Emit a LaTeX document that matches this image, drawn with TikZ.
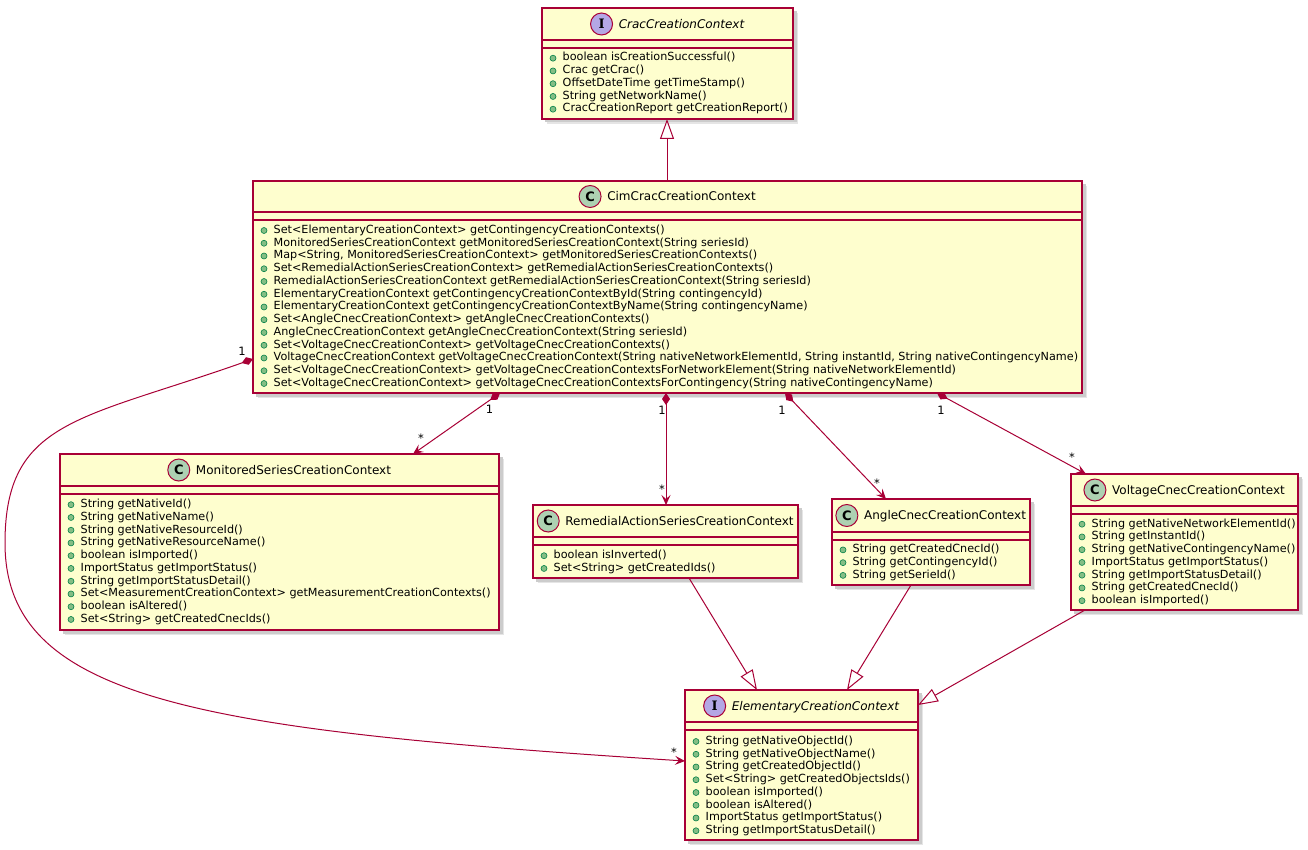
\documentclass[tikz,border=0pt]{standalone}
\usepackage{fontspec}
\setmainfont{DejaVu Sans}
\newfontfamily\iconfont{DejaVu Sans}
\newfontfamily\iconserif{DejaVu Serif}
\usetikzlibrary{arrows.meta,calc}
\definecolor{uborder}{HTML}{A80036}
\definecolor{ufill}{HTML}{FEFECE}
\definecolor{cicon}{HTML}{ADD1B2}
\definecolor{iicon}{HTML}{B4A7E5}
\definecolor{bfill}{HTML}{84BE84}
\definecolor{bdraw}{HTML}{038048}
\tikzset{
  classbox/.style={rectangle, draw=uborder, fill=ufill, line width=1.5pt, inner sep=0pt, outer sep=0pt, anchor=north west},
  uline/.style={draw=uborder, line width=1.5pt},
  titletext/.style={inner sep=0pt, anchor=base, font=\fontsize{12}{14}\selectfont},
  iconC/.style={circle, draw=uborder, line width=1pt, fill=cicon, minimum size=22pt, inner sep=0pt, font=\iconfont\bfseries\fontsize{13}{13}\selectfont},
  iconI/.style={circle, draw=uborder, line width=1pt, fill=iicon, minimum size=22pt, inner sep=0pt, font=\iconserif\bfseries\fontsize{13}{13}\selectfont},
  methtext/.style={inner sep=0pt, anchor=base west, font=\fontsize{11.2}{13}\selectfont},
  bulletdot/.style={fill=bfill, draw=bdraw, line width=0.6pt},
  conn/.style={draw=uborder, line width=1pt},
  compo/.style={conn, {Diamond[length=12pt,width=8pt,fill=uborder]}-{Stealth[length=10pt,width=9pt,inset=4pt,fill=uborder]}},
  inherit/.style={conn, -{Triangle[open,length=20pt,width=14pt,fill=white]}},
  mult/.style={inner sep=0pt, font=\fontsize{11.5}{13}\selectfont},
}
% #1 name, #2 x1, #3 y1, #4 x2, #5 y2, #6 sep1, #7 C/I, #8 title
\newcommand\umlclass[8]{%
  \fill[black!10] (#2+5,#3+5) rectangle (#4+5,#5+5);
  \fill[black!20] (#2+3,#3+3) rectangle (#4+3.5,#5+3.5);
  \node[classbox, minimum width={#4-#2}, minimum height={#5-#3}] (#1) at (#2,#3) {};
  \draw[uline] (#2,#6) -- (#4,#6) (#2,#6+8) -- (#4,#6+8);
  \node[titletext] (#1-title) at ({(#2+#4)/2+14}, {(#3+#6)/2+4.3}) {#8};
  \node[icon#7] (#1-icon) at ($(#1-title.west |- 0,{(#3+#6)/2})+(-17,0)$) {#7};
}
% #1 name, #2 x1, #3 first baseline, #4 list
\newcommand\umlmethods[4]{%
  \foreach \m [count=\i from 0] in {#4} {
    \fill[bulletdot] (#2+11, #3+\i*12.75-2.8) circle (3pt);
    \node[methtext] (#1-m\i) at (#2+20.5, #3+\i*12.75) {\m};
  }
}
\begin{document}
\begin{tikzpicture}[x=1pt,y=-1pt]
\useasboundingbox (0,0) rectangle (1308,850);
\fill[white] (0,0) rectangle (1308,850);

\umlclass{crac}{542}{8}{793}{119}{40}{I}{\itshape CracCreationContext}
\umlmethods{crac}{542}{61}{{boolean isCreationSuccessful()},{Crac getCrac()},{OffsetDateTime getTimeStamp()},{String getNetworkName()},{CracCreationReport getCreationReport()}}

\umlclass{main}{253}{181}{1082}{393}{212}{C}{CimCracCreationContext}
\umlmethods{main}{253}{233.3}{{Set<ElementaryCreationContext> getContingencyCreationContexts()},{MonitoredSeriesCreationContext getMonitoredSeriesCreationContext(String seriesId)},{Map<String, MonitoredSeriesCreationContext> getMonitoredSeriesCreationContexts()},{Set<RemedialActionSeriesCreationContext> getRemedialActionSeriesCreationContexts()},{RemedialActionSeriesCreationContext getRemedialActionSeriesCreationContext(String seriesId)},{ElementaryCreationContext getContingencyCreationContextById(String contingencyId)},{ElementaryCreationContext getContingencyCreationContextByName(String contingencyName)},{Set<AngleCnecCreationContext> getAngleCnecCreationContexts()},{AngleCnecCreationContext getAngleCnecCreationContext(String seriesId)},{Set<VoltageCnecCreationContext> getVoltageCnecCreationContexts()},{VoltageCnecCreationContext getVoltageCnecCreationContext(String nativeNetworkElementId, String instantId, String nativeContingencyName)},{Set<VoltageCnecCreationContext> getVoltageCnecCreationContextsForNetworkElement(String nativeNetworkElementId)},{Set<VoltageCnecCreationContext> getVoltageCnecCreationContextsForContingency(String nativeContingencyName)}}

\umlclass{mon}{60}{454}{499}{630}{486}{C}{MonitoredSeriesCreationContext}
\umlmethods{mon}{60}{507.5}{{String getNativeId()},{String getNativeName()},{String getNativeResourceId()},{String getNativeResourceName()},{boolean isImported()},{ImportStatus getImportStatus()},{String getImportStatusDetail()},{Set<MeasurementCreationContext> getMeasurementCreationContexts()},{boolean isAltered()},{Set<String> getCreatedCnecIds()}}

\umlclass{rem}{533}{505}{798}{578}{537}{C}{RemedialActionSeriesCreationContext}
\umlmethods{rem}{533}{558.5}{{boolean isInverted()},{Set<String> getCreatedIds()}}

\umlclass{ang}{832}{499}{1030}{585}{532}{C}{AngleCnecCreationContext}
\umlmethods{ang}{832}{552.7}{{String getCreatedCnecId()},{String getContingencyId()},{String getSerieId()}}

\umlclass{volt}{1071}{474}{1298}{610}{506}{C}{VoltageCnecCreationContext}
\umlmethods{volt}{1071}{527}{{String getNativeNetworkElementId()},{String getInstantId()},{String getNativeContingencyName()},{ImportStatus getImportStatus()},{String getImportStatusDetail()},{String getCreatedCnecId()},{boolean isImported()}}

\umlclass{elem}{685}{690}{918}{840}{722}{I}{\itshape ElementaryCreationContext}
\umlmethods{elem}{685}{744.3}{{String getNativeObjectId()},{String getNativeObjectName()},{String getCreatedObjectId()},{Set<String> getCreatedObjectsIds()},{boolean isImported()},{boolean isAltered()},{ImportStatus getImportStatus()},{String getImportStatusDetail()}}

% inheritance
\draw[inherit] ([xshift=414pt]main.north west) -- ([xshift=125pt]crac.south west);
\draw[inherit] ([xshift=156pt]rem.south west) -- ([xshift=72pt]elem.north west);
\draw[inherit] ([xshift=79pt]ang.south west) -- ([xshift=162pt]elem.north west);
\draw[inherit] ([xshift=14pt]volt.south west) -- ([yshift=-15pt]elem.north east);

% compositions
\draw[compo] ([xshift=247pt]main.south west) -- ([xshift=353pt]mon.north west);
\draw[compo] ([xshift=413pt]main.south west) -- ([xshift=133pt]rem.north west);
\draw[compo] ([xshift=532pt]main.south west) -- ([xshift=54pt]ang.north west);
\draw[compo] ([xshift=684pt]main.south west) -- ([xshift=15pt]volt.north west);
\draw[compo] ([yshift=-178pt]main.north west) .. controls (80,420) and (5,420) .. (5,543)
  .. controls (5,700) and (200,730) .. ([yshift=-71pt]elem.north west);

% multiplicities
\node[mult] (l1a) at (242,351) {1};
\node[mult] (l1b) at (674,752) {*};
\node[mult] (l2a) at (489.5,409.5) {1};
\node[mult] (l2b) at (421,438) {*};
\node[mult] (l3a) at (662,410.5) {1};
\node[mult] (l3b) at (662,489) {*};
\node[mult] (l4a) at (782,410.5) {1};
\node[mult] (l4b) at (877,483) {*};
\node[mult] (l5a) at (941,410.5) {1};
\node[mult] (l5b) at (1072,457) {*};
\end{tikzpicture}
\end{document}
